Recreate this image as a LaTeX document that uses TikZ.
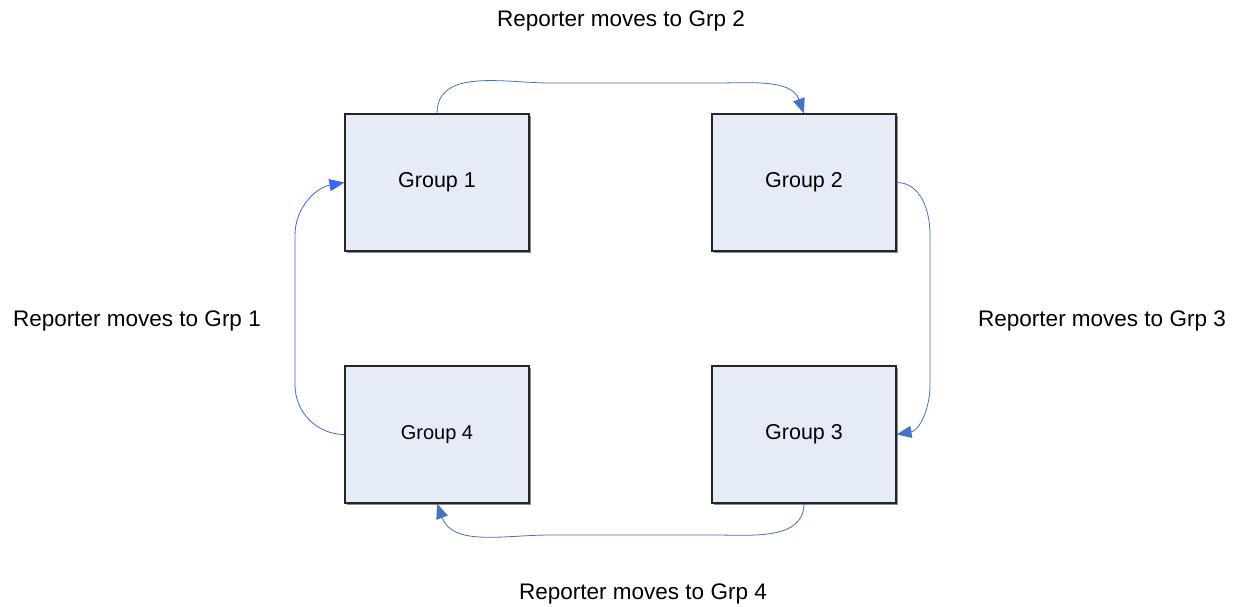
\documentclass[tikz,border=0pt]{standalone}
\usepackage{fontspec}
\setmainfont{Liberation Sans}
\usetikzlibrary{arrows.meta}
\definecolor{boxfill}{HTML}{E6ECF7}
\definecolor{linkA}{HTML}{4472C4}
\definecolor{linkB}{HTML}{3A66F0}
\begin{document}
\begin{tikzpicture}[x=1pt,y=-1pt,
  grp/.style={draw=black!85, line width=1.1pt, fill=boxfill, minimum width=184pt, minimum height=137pt, inner sep=0pt, font=\fontsize{21.5}{24}\selectfont},
  shad/.style={fill=black!45},
  link/.style={draw=linkA, line width=0.8pt, -{Triangle[length=15pt,width=12pt]}},
  lbl/.style={font=\fontsize{22.5}{26}\selectfont, inner sep=0pt}]
\useasboundingbox (0,0) rectangle (1238,606);
% shadows
\fill[shad] (347,116) rectangle (531,253);
\fill[shad] (714,116) rectangle (898,253);
\fill[shad] (347,368) rectangle (531,505);
\fill[shad] (714,368) rectangle (898,505);
\node[grp] (g1) at (437,182.5) {Group 1};
\node[grp] (g2) at (804,182.5) {Group 2};
\node[grp] (g3) at (804,434.5) {Group 3};
\node[grp, font=\fontsize{20}{23}\selectfont] (g4) at (437,434.5) {Group 4};
% bend points
\coordinate (a1) at (550,83);
\coordinate (a2) at (715,83);
\coordinate (b1) at (930,235);
\coordinate (b2) at (930,385);
\coordinate (c1) at (715,535);
\coordinate (c2) at (550,535);
\coordinate (d1) at (295,385);
\coordinate (d2) at (295,235);
\draw[link] (g1.north) to[out=90,in=180] (a1) -- (a2) to[out=0,in=110] (g2.north);
\draw[link] (g2.east) to[out=0,in=90] (b1) -- (b2) to[out=270,in=10] (g3.east);
\draw[link] (g3.south) to[out=270,in=0] (c1) -- (c2) to[out=180,in=290] (g4.south);
\draw[link, draw=linkB] (g4.west) to[out=180,in=270] (d1) -- (d2) to[out=90,in=190] (g1.west);
% labels
\node[lbl] (t2) at (621,21) {Reporter moves to Grp 2};
\node[lbl] (t1) at (137,321) {Reporter moves to Grp 1};
\node[lbl] (t3) at (1102,321) {Reporter moves to Grp 3};
\node[lbl] (t4) at (643,594) {Reporter moves to Grp 4};
\end{tikzpicture}
\end{document}
